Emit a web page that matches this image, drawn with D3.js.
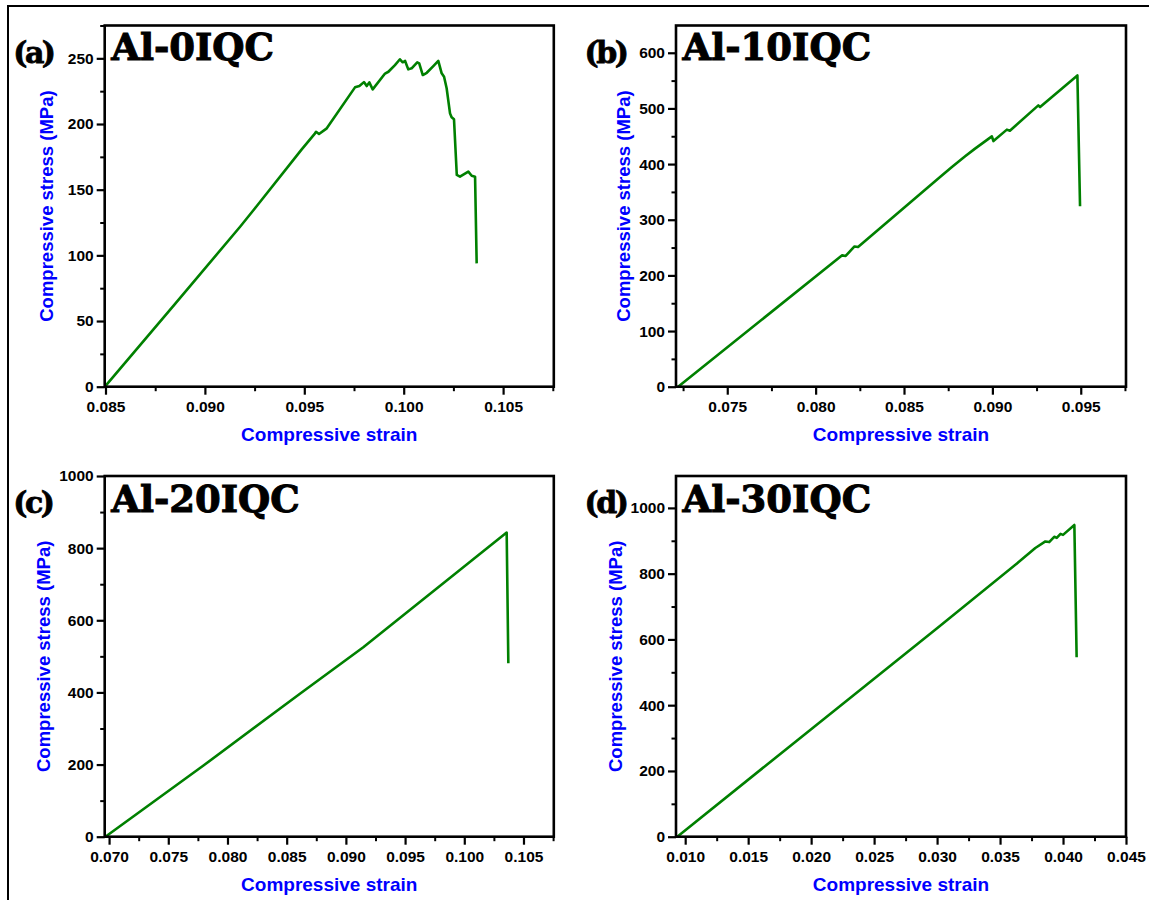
<!DOCTYPE html>
<html>
<head>
<meta charset="utf-8">
<script src="https://cdn.jsdelivr.net/npm/d3@7"></script>
<style>
  body { margin: 0; background: #fff; }
  svg { display: block; }
</style>
</head>
<body>
<div id="chart"></div>
<script>
// panel texts
const panelLetters = ['(a)', '(b)', '(c)', '(d)'];
const panelTitles = ['Al-0IQC', 'Al-10IQC', 'Al-20IQC', 'Al-30IQC'];
const xTitle = 'Compressive strain';
const yTitle = 'Compressive stress (MPa)';

// axis ranges and major ticks
const strainDomains = [[0.08496, 0.10755], [0.0721, 0.09756], [0.06963, 0.10756], [0.00927, 0.045]];
const stressDomains = [[0, 275], [0, 649], [0, 1000], [0, 1097]];
const strainTicks = [
  [0.085, 0.090, 0.095, 0.100, 0.105],
  [0.075, 0.080, 0.085, 0.090, 0.095],
  [0.070, 0.075, 0.080, 0.085, 0.090, 0.095, 0.100, 0.105],
  [0.010, 0.015, 0.020, 0.025, 0.030, 0.035, 0.040, 0.045]
];
const stressTicks = [
  [0, 50, 100, 150, 200, 250],
  [0, 100, 200, 300, 400, 500, 600],
  [0, 200, 400, 600, 800, 1000],
  [0, 200, 400, 600, 800, 1000]
];

// stress-strain curves [strain, stress MPa]
const curveA = [
  [0.08497, 0], [0.0885, 63], [0.09177, 121.8], [0.0925, 135.5], [0.09487, 180.7],
  [0.09554, 192.9], [0.09559, 194.1], [0.09574, 192.4], [0.09613, 196.7],
  [0.09755, 227.9], [0.09777, 228.9], [0.098, 231.9], [0.09814, 228.9],
  [0.09827, 231.7], [0.09844, 226.4], [0.09906, 238.4], [0.09923, 239.8],
  [0.09956, 244.9], [0.09981, 249.3], [0.09995, 247], [0.10007, 248],
  [0.10023, 241.6], [0.1004, 242.4], [0.10068, 247], [0.10078, 246.2],
  [0.10096, 237.3], [0.10116, 239], [0.10149, 244.1], [0.10174, 248],
  [0.10191, 238.6], [0.10203, 236], [0.10216, 227.2], [0.10233, 208.1],
  [0.10241, 205.1], [0.10253, 203.6], [0.10267, 161.2], [0.10283, 159.9],
  [0.10325, 163.7], [0.10342, 160.6], [0.10359, 159.9], [0.10367, 93.9]
];
const curveB = [
  [0.07222, 0], [0.0815, 236], [0.0817, 235], [0.0822, 252], [0.0824, 251],
  [0.08704, 376.8], [0.08771, 394.8], [0.08846, 414], [0.08902, 427.8],
  [0.08997, 449.8], [0.09006, 441.4], [0.09082, 461.9], [0.09099, 460],
  [0.0926, 505.5], [0.0927, 502.4], [0.09481, 559.3], [0.09496, 324.2]
];
const curveC = [
  [0.06969, 0], [0.078, 198], [0.08612, 396.5], [0.09147, 525.3],
  [0.10358, 843.2], [0.10372, 481]
];
const curveD = [
  [0.00937, 0], [0.02, 327], [0.03, 634], [0.0365, 836], [0.0378, 878],
  [0.0386, 898], [0.0389, 896], [0.0393, 912], [0.0395, 909], [0.0398, 921],
  [0.0400, 918], [0.0409, 948], [0.04108, 546]
];
const curves = [curveA, curveB, curveC, curveD];

const W = 1149, H = 900;
// plot boxes in page pixels
const boxes = [
  {left: 104.7, right: 553.8, top: 25.5, bottom: 386.7, yTitleX: 47, letterY: 63, titleY: 60},
  {left: 676, right: 1126, top: 25.5, bottom: 386.7, yTitleX: 624, letterY: 63, titleY: 60},
  {left: 104.7, right: 553.8, top: 476, bottom: 836.7, yTitleX: 44, letterY: 513, titleY: 511.5},
  {left: 676, right: 1126, top: 476, bottom: 836.7, yTitleX: 616, letterY: 513, titleY: 511.5}
];

const svg = d3.select('#chart').append('svg')
  .attr('width', W)
  .attr('height', H);

// outer frame
svg.append('rect')
  .attr('x', 8).attr('y', 6)
  .attr('width', W + 20).attr('height', H + 20)
  .attr('fill', 'none')
  .attr('stroke', '#000')
  .attr('stroke-width', 2);

function minorTicks(major, domain) {
  const step = major[1] - major[0];
  const res = [];
  for (let v = major[0] - step / 2; v <= domain[1] + 1e-9; v += step) {
    if (v >= domain[0] - 1e-9) res.push(+v.toFixed(6));
  }
  return res.filter(v => !major.some(m => Math.abs(m - v) < step / 10));
}

function drawPanel(i) {
  const b = boxes[i];
  const x = d3.scaleLinear().domain(strainDomains[i]).range([b.left, b.right]);
  const y = d3.scaleLinear().domain(stressDomains[i]).range([b.bottom, b.top]);
  const g = svg.append('g');

  // minor ticks
  g.append('g')
    .attr('transform', 'translate(0,' + b.bottom + ')')
    .call(d3.axisBottom(x).tickValues(minorTicks(strainTicks[i], strainDomains[i])).tickSize(4.5).tickSizeOuter(0).tickFormat(''))
    .call(s => s.select('.domain').remove())
    .selectAll('line').attr('stroke-width', 2);
  g.append('g')
    .attr('transform', 'translate(' + b.left + ',0)')
    .call(d3.axisLeft(y).tickValues(minorTicks(stressTicks[i], stressDomains[i])).tickSize(4.5).tickSizeOuter(0).tickFormat(''))
    .call(s => s.select('.domain').remove())
    .selectAll('line').attr('stroke-width', 2);

  // major ticks
  const xAxis = g.append('g')
    .attr('transform', 'translate(0,' + b.bottom + ')')
    .call(d3.axisBottom(x).tickValues(strainTicks[i]).tickSize(8).tickSizeOuter(0).tickPadding(6).tickFormat(d3.format('.3f')));
  const yAxis = g.append('g')
    .attr('transform', 'translate(' + b.left + ',0)')
    .call(d3.axisLeft(y).tickValues(stressTicks[i]).tickSize(8).tickSizeOuter(0).tickPadding(3).tickFormat(d3.format('d')));
  [xAxis, yAxis].forEach(a => {
    a.select('.domain').remove();
    a.selectAll('line').attr('stroke', '#000').attr('stroke-width', 2.2);
    a.selectAll('text')
      .attr('fill', '#000')
      .style('font-family', '"Liberation Sans", Arial, sans-serif')
      .style('font-weight', 'bold')
      .style('font-size', '15.5px');
  });

  // curve
  g.append('path')
    .datum(curves[i])
    .attr('d', d3.line().x(d => x(d[0])).y(d => y(d[1])))
    .attr('fill', 'none')
    .attr('stroke', '#008000')
    .attr('stroke-width', 2.6)
    .attr('stroke-linejoin', 'round');

  // box
  g.append('rect')
    .attr('x', b.left).attr('y', b.top)
    .attr('width', b.right - b.left).attr('height', b.bottom - b.top)
    .attr('fill', 'none')
    .attr('stroke', '#000')
    .attr('stroke-width', 2.6);

  // axis titles
  g.append('text')
    .attr('x', (b.left + b.right) / 2)
    .attr('y', b.bottom + 54)
    .attr('text-anchor', 'middle')
    .attr('fill', '#0000ff')
    .style('font-family', '"Liberation Sans", Arial, sans-serif')
    .style('font-weight', 'bold')
    .style('font-size', '19px')
    .text(xTitle);
  g.append('text')
    .attr('transform', 'translate(' + b.yTitleX + ',' + (b.top + b.bottom) / 2 + ') rotate(-90)')
    .attr('text-anchor', 'middle')
    .attr('dy', '0.35em')
    .attr('fill', '#0000ff')
    .style('font-family', '"Liberation Sans", Arial, sans-serif')
    .style('font-weight', 'bold')
    .style('font-size', '18.5px')
    .text(yTitle);

  // panel letter and sample name
  g.append('text')
    .attr('x', b.left - 91.5)
    .attr('y', b.letterY)
    .attr('fill', '#000')
    .attr('stroke', '#000')
    .attr('stroke-width', 0.8)
    .style('font-family', '"DejaVu Serif", serif')
    .style('font-weight', 'bold')
    .style('font-size', '30px')
    .style('letter-spacing', '-2.5px')
    .text(panelLetters[i]);
  g.append('text')
    .attr('x', b.left + 6.5)
    .attr('y', b.titleY)
    .attr('fill', '#000')
    .attr('stroke', '#000')
    .attr('stroke-width', 1)
    .style('font-family', '"DejaVu Serif", serif')
    .style('font-weight', 'bold')
    .style('font-size', '37px')
    .text(panelTitles[i]);
}

for (let i = 0; i < 4; i++) drawPanel(i);
</script>
</body>
</html>
